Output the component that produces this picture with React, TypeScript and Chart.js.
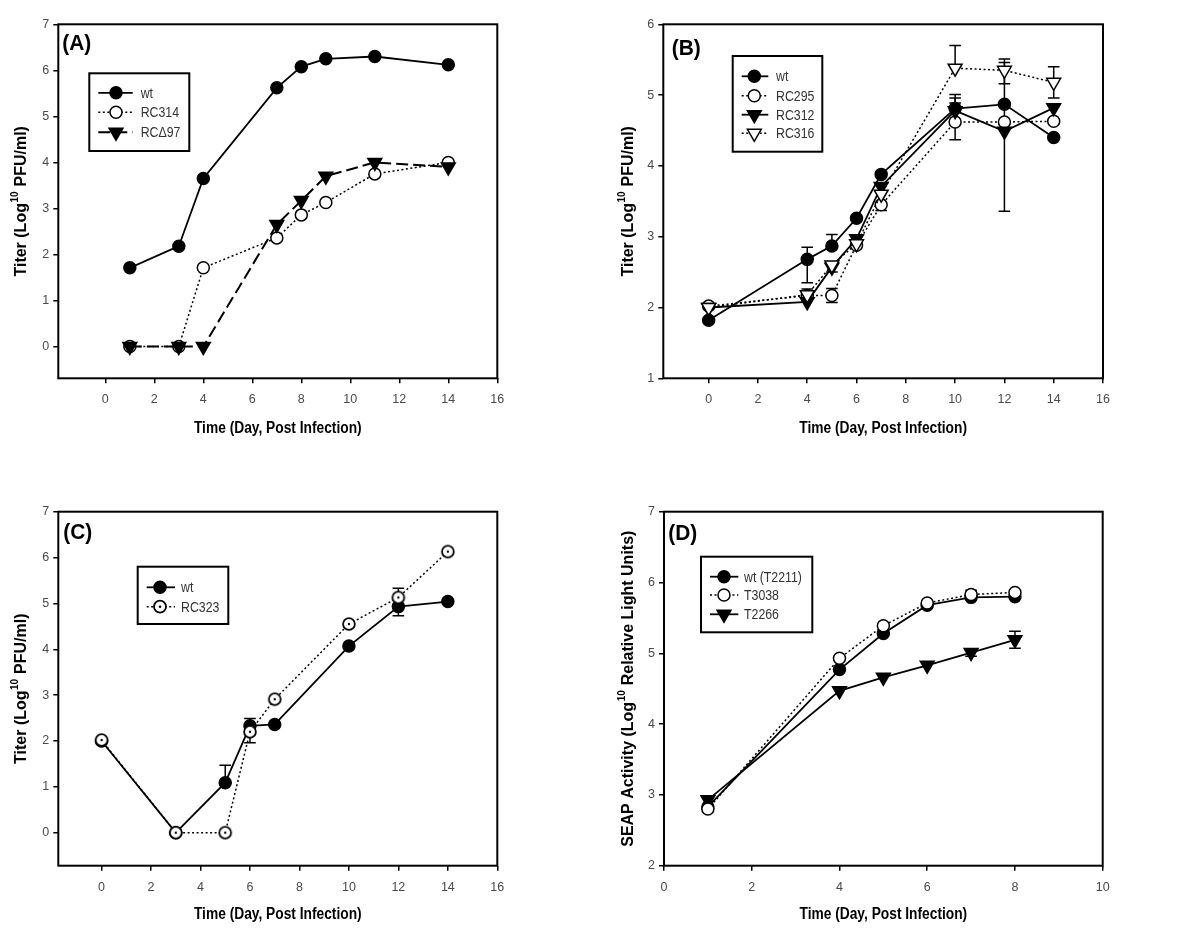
import React, { useEffect, useRef } from "react";
import { Chart, registerables } from "chart.js";

Chart.register(...registerables);

const FONT = '"Liberation Sans", Arial, Helvetica, sans-serif';

// ---------------- Panel A ----------------
const aDays = [1, 3, 4, 7, 8, 9, 11, 14];
const aWt = [1.71, 2.18, 3.65, 5.62, 6.08, 6.25, 6.3, 6.12];
const aRC314 = [0, 0, 1.71, 2.36, 2.86, 3.13, 3.75, 4.0];
const aRCd97 = [0, 0, 0, 2.65, 3.17, 3.7, 4.0, 3.9];
const aXTicks = [0, 2, 4, 6, 8, 10, 12, 14, 16];
const aYTicks = [0, 1, 2, 3, 4, 5, 6, 7];

// ---------------- Panel B ----------------
const bDays = [0, 4, 5, 6, 7, 10, 12, 14];
const bWt = [1.82, 2.68, 2.87, 3.26, 3.88, 4.81, 4.87, 4.4];
const bWtErrUp = [0, 0.17, 0.16, 0, 0, 0.2, 0, 0];
const bWtErrDown = [0, 0.33, 0, 0, 0, 0, 0, 0];
const bRC295 = [2.02, 2.17, 2.17, 2.88, 3.45, 4.62, 4.62, 4.63];
const bRC295ErrUp = [0, 0, 0.1, 0, 0, 0.27, 0, 0];
const bRC295ErrDown = [0, 0, 0.1, 0, 0.08, 0.25, 0, 0];
const bRC312 = [2.0, 2.08, 2.57, 2.97, 3.71, 4.78, 4.49, 4.82];
const bRC312ErrUp = [0, 0, 0, 0, 0, 0.18, 0.97, 0];
const bRC312ErrDown = [0, 0, 0, 0, 0, 0, 1.13, 0];
const bRC316 = [2.0, 2.18, 2.6, 2.9, 3.6, 5.38, 5.35, 5.18];
const bRC316ErrUp = [0, 0.08, 0, 0, 0, 0.32, 0.16, 0.22];
const bRC316ErrDown = [0, 0, 0.1, 0, 0, 0, 0.19, 0.22];
const bXTicks = [0, 2, 4, 6, 8, 10, 12, 14, 16];
const bYTicks = [1, 2, 3, 4, 5, 6];

// ---------------- Panel C ----------------
const cDays = [0, 3, 5, 6, 7, 10, 12, 14];
const cWt = [2.0, 0, 1.09, 2.33, 2.36, 4.07, 4.93, 5.04];
const cWtErrUp = [0, 0, 0.38, 0.16, 0, 0, 0, 0];
const cWtErrDown = [0, 0, 0, 0, 0, 0, 0.2, 0];
const cRC323 = [2.02, 0, 0, 2.2, 2.91, 4.55, 5.13, 6.13];
const cRC323ErrUp = [0, 0, 0, 0, 0, 0, 0.2, 0];
const cRC323ErrDown = [0, 0, 0, 0.24, 0, 0, 0, 0];
const cXTicks = [0, 2, 4, 6, 8, 10, 12, 14, 16];
const cYTicks = [0, 1, 2, 3, 4, 5, 6, 7];

// ---------------- Panel D ----------------
const dDays = [1, 4, 5, 6, 7, 8];
const dWt = [2.83, 4.77, 5.28, 5.68, 5.79, 5.8];
const dT3038 = [2.8, 4.93, 5.39, 5.71, 5.83, 5.86];
const dT3038Err = [0, 0, 0, 0, 0.06, 0];
const dT2266 = [2.93, 4.47, 4.66, 4.83, 5.01, 5.19];
const dT2266Err = [0, 0, 0, 0, 0.05, 0.12];
const dXTicks = [0, 2, 4, 6, 8, 10];
const dYTicks = [2, 3, 4, 5, 6, 7];

type Marker = "filledCircle" | "openCircle" | "filledTri" | "openTri" | "dotCircle";

interface SeriesSpec {
  label: string;
  ys: number[];
  errUp?: number[];
  errDown?: number[];
  marker: Marker;
  dash: number[];
  lineWidth: number;
  order: number;
}

interface PanelSpec {
  left: number;
  top: number;
  width: number;
  height: number;
  area: { l: number; t: number; r: number; b: number };
  xMin: number;
  xMax: number;
  yMin: number;
  yMax: number;
  xTicks: number[];
  yTicks: number[];
  days: number[];
  series: SeriesSpec[];
  tag: string;
  tagX: number;
  tagY: number;
  xTitle: string;
  xTitleY: number;
  yTitle: [string, string, string];
  yTitleX: number;
  legend: {
    x1: number;
    y1: number;
    x2: number;
    y2: number;
    rows: number[];
    lineX1: number;
    lineX2: number;
    markerX: number;
    textX: number;
  };
}

const CIRCLE_R = 6;
const TRI_R = 8;

let dotCircleCanvas: HTMLCanvasElement | null = null;
function getDotCircle(): HTMLCanvasElement {
  if (dotCircleCanvas) return dotCircleCanvas;
  const c = document.createElement("canvas");
  c.width = 16;
  c.height = 16;
  const g = c.getContext("2d")!;
  g.beginPath();
  g.arc(8, 8, 5.9, 0, Math.PI * 2);
  g.fillStyle = "#fff";
  g.fill();
  g.lineWidth = 1.8;
  g.strokeStyle = "#000";
  g.stroke();
  g.beginPath();
  g.arc(8, 8, 1.2, 0, Math.PI * 2);
  g.fillStyle = "#000";
  g.fill();
  dotCircleCanvas = c;
  return c;
}

function pointProps(marker: Marker): any {
  switch (marker) {
    case "filledCircle":
      return { pointStyle: "circle", pointRadius: CIRCLE_R, pointBackgroundColor: "#000", pointRotation: 0 };
    case "openCircle":
      return { pointStyle: "circle", pointRadius: CIRCLE_R, pointBackgroundColor: "#fff", pointRotation: 0 };
    case "filledTri":
      return { pointStyle: "triangle", pointRadius: TRI_R, pointBackgroundColor: "#000", pointRotation: 180 };
    case "openTri":
      return { pointStyle: "triangle", pointRadius: TRI_R, pointBackgroundColor: "#fff", pointRotation: 180 };
    case "dotCircle":
      return { pointStyle: getDotCircle(), pointRadius: CIRCLE_R, pointBackgroundColor: "#fff", pointRotation: 0 };
  }
}

function drawLegendMarker(ctx: CanvasRenderingContext2D, marker: Marker, x: number, y: number) {
  ctx.save();
  ctx.setLineDash([]);
  ctx.lineWidth = 1.5;
  ctx.strokeStyle = "#000";
  if (marker === "filledCircle" || marker === "openCircle" || marker === "dotCircle") {
    ctx.beginPath();
    ctx.arc(x, y, CIRCLE_R, 0, Math.PI * 2);
    ctx.fillStyle = marker === "filledCircle" ? "#000" : "#fff";
    ctx.fill();
    ctx.lineWidth = marker === "dotCircle" ? 1.8 : 1.5;
    ctx.stroke();
    if (marker === "dotCircle") {
      ctx.beginPath();
      ctx.arc(x, y, 1.2, 0, Math.PI * 2);
      ctx.fillStyle = "#000";
      ctx.fill();
    }
  } else {
    const r = TRI_R;
    const s = Math.sin(Math.PI / 3) * r;
    ctx.beginPath();
    ctx.moveTo(x, y + r);
    ctx.lineTo(x - s, y - r / 2);
    ctx.lineTo(x + s, y - r / 2);
    ctx.closePath();
    ctx.fillStyle = marker === "filledTri" ? "#000" : "#fff";
    ctx.fill();
    ctx.stroke();
  }
  ctx.restore();
}

function fillTextScaled(
  ctx: CanvasRenderingContext2D,
  text: string,
  x: number,
  y: number,
  sx: number,
  align: CanvasTextAlign
) {
  ctx.save();
  ctx.translate(x, y);
  ctx.scale(sx, 1);
  ctx.textAlign = align;
  ctx.fillText(text, 0, 0);
  ctx.restore();
}

function drawYTitle(ctx: CanvasRenderingContext2D, parts: [string, string, string], cx: number, cy: number) {
  ctx.save();
  ctx.translate(cx, cy);
  ctx.rotate(-Math.PI / 2);
  const main = `bold 16px ${FONT}`;
  const sup = `bold 10px ${FONT}`;
  ctx.font = main;
  const w1 = ctx.measureText(parts[0]).width;
  const w3 = ctx.measureText(parts[2]).width;
  ctx.font = sup;
  const w2 = ctx.measureText(parts[1]).width;
  let x = -(w1 + w2 + w3 + 1) / 2;
  ctx.textBaseline = "middle";
  ctx.textAlign = "left";
  ctx.fillStyle = "#000";
  ctx.font = main;
  ctx.fillText(parts[0], x, 0);
  x += w1;
  ctx.font = sup;
  ctx.fillText(parts[1], x + 0.5, -6);
  x += w2 + 1;
  ctx.font = main;
  ctx.fillText(parts[2], x, 0);
  ctx.restore();
}

function makePlugin(spec: PanelSpec) {
  return {
    id: "panelDeco",
    beforeDatasetsDraw(chart: any) {
      const ctx: CanvasRenderingContext2D = chart.ctx;
      const xs = chart.scales.x;
      const ys = chart.scales.y;
      ctx.save();
      ctx.strokeStyle = "#000";
      ctx.lineWidth = 1.5;
      ctx.setLineDash([]);
      const cap = 5.8;
      spec.series.forEach((s) => {
        spec.days.forEach((d, i) => {
          const v = s.ys[i];
          const up = s.errUp ? s.errUp[i] : 0;
          const dn = s.errDown ? s.errDown[i] : 0;
          const px = xs.getPixelForValue(d);
          const py = ys.getPixelForValue(v);
          if (up > 0) {
            const t = ys.getPixelForValue(v + up);
            ctx.beginPath();
            ctx.moveTo(px, py);
            ctx.lineTo(px, t);
            ctx.moveTo(px - cap, t);
            ctx.lineTo(px + cap, t);
            ctx.stroke();
          }
          if (dn > 0) {
            const b = ys.getPixelForValue(v - dn);
            ctx.beginPath();
            ctx.moveTo(px, py);
            ctx.lineTo(px, b);
            ctx.moveTo(px - cap, b);
            ctx.lineTo(px + cap, b);
            ctx.stroke();
          }
        });
      });
      ctx.restore();
    },
    afterDraw(chart: any) {
      const ctx: CanvasRenderingContext2D = chart.ctx;
      const a = chart.chartArea;
      ctx.save();
      ctx.setLineDash([]);
      ctx.strokeStyle = "#000";
      ctx.lineWidth = 2;
      ctx.strokeRect(a.left, a.top, a.right - a.left, a.bottom - a.top);
      ctx.fillStyle = "#000";
      ctx.font = `bold 22px ${FONT}`;
      ctx.textBaseline = "middle";
      fillTextScaled(ctx, spec.tag, spec.tagX, spec.tagY, 0.95, "left");
      ctx.font = `bold 16px ${FONT}`;
      fillTextScaled(ctx, spec.xTitle, (a.left + a.right) / 2, spec.xTitleY, 0.86, "center");
      ctx.restore();
      drawYTitle(ctx, spec.yTitle, spec.yTitleX, (a.top + a.bottom) / 2);
      const L = spec.legend;
      ctx.save();
      ctx.fillStyle = "#fff";
      ctx.fillRect(L.x1, L.y1, L.x2 - L.x1, L.y2 - L.y1);
      ctx.strokeStyle = "#000";
      ctx.lineWidth = 2;
      ctx.strokeRect(L.x1, L.y1, L.x2 - L.x1, L.y2 - L.y1);
      spec.series.forEach((s, i) => {
        const y = L.rows[i];
        ctx.save();
        ctx.strokeStyle = "#000";
        ctx.lineWidth = s.lineWidth;
        ctx.setLineDash(s.dash);
        ctx.beginPath();
        ctx.moveTo(L.lineX1, y);
        ctx.lineTo(L.lineX2, y);
        ctx.stroke();
        ctx.restore();
        drawLegendMarker(ctx, s.marker, L.markerX, y);
        ctx.fillStyle = "#333";
        ctx.font = `14px ${FONT}`;
        ctx.textBaseline = "middle";
        fillTextScaled(ctx, s.label, L.textX, y + 1, 0.88, "left");
      });
      ctx.restore();
    },
  };
}

function buildConfig(spec: PanelSpec): any {
  const datasets = spec.series.map((s) => ({
    label: s.label,
    data: spec.days.map((d, i) => ({ x: d, y: s.ys[i] })),
    showLine: true,
    borderColor: "#000",
    borderWidth: s.lineWidth,
    borderDash: s.dash,
    tension: 0,
    fill: false,
    pointBorderColor: "#000",
    pointBorderWidth: 1.5,
    order: s.order,
    clip: false,
    ...pointProps(s.marker),
  }));
  const tickFont = { family: FONT, size: 12.5 };
  return {
    type: "scatter",
    data: { datasets },
    options: {
      animation: false,
      responsive: false,
      maintainAspectRatio: false,
      events: [],
      layout: {
        padding: { left: 0, top: spec.area.t, right: spec.width - spec.area.r, bottom: 0 },
      },
      plugins: { legend: { display: false }, tooltip: { enabled: false }, title: { display: false } },
      scales: {
        x: {
          type: "linear",
          position: "bottom",
          min: spec.xMin,
          max: spec.xMax,
          afterBuildTicks: (s: any) => {
            s.ticks = spec.xTicks.map((v) => ({ value: v }));
          },
          afterFit: (s: any) => {
            s.height = spec.height - spec.area.b;
          },
          ticks: { color: "#4a4a4a", font: tickFont, padding: 9, maxRotation: 0, autoSkip: false },
          grid: { drawOnChartArea: false, drawTicks: true, tickLength: 5, color: "#000", lineWidth: 1.5 },
          border: { display: false },
          title: { display: false },
        },
        y: {
          type: "linear",
          position: "left",
          min: spec.yMin,
          max: spec.yMax,
          afterBuildTicks: (s: any) => {
            s.ticks = spec.yTicks.map((v) => ({ value: v }));
          },
          afterFit: (s: any) => {
            s.width = spec.area.l;
          },
          ticks: { color: "#4a4a4a", font: tickFont, padding: 4, autoSkip: false },
          grid: { drawOnChartArea: false, drawTicks: true, tickLength: 5, color: "#000", lineWidth: 1.5 },
          border: { display: false },
          title: { display: false },
        },
      },
    },
    plugins: [makePlugin(spec)],
  };
}

const DOTTED = [2, 2.5];
const DASHED = [12, 5];

const panels: PanelSpec[] = [
  {
    left: 0,
    top: 0,
    width: 600,
    height: 467,
    area: { l: 58.3, t: 24.3, r: 497.3, b: 378.3 },
    xMin: -1.92,
    xMax: 16,
    yMin: -0.69,
    yMax: 7,
    xTicks: aXTicks,
    yTicks: aYTicks,
    days: aDays,
    series: [
      { label: "wt", ys: aWt, marker: "filledCircle", dash: [], lineWidth: 1.8, order: 0 },
      { label: "RC314", ys: aRC314, marker: "openCircle", dash: DOTTED, lineWidth: 1.5, order: 2 },
      { label: "RCΔ97", ys: aRCd97, marker: "filledTri", dash: DASHED, lineWidth: 2, order: 1 },
    ],
    tag: "(A)",
    tagX: 62.3,
    tagY: 43.5,
    xTitle: "Time (Day, Post Infection)",
    xTitleY: 429,
    yTitle: ["Titer (Log", "10", " PFU/ml)"],
    yTitleX: 21.7,
    legend: { x1: 89.3, y1: 73.3, x2: 189.3, y2: 151, rows: [92.8, 112.3, 132.3], lineX1: 98.3, lineX2: 132.7, markerX: 116, textX: 140.7 },
  },
  {
    left: 600,
    top: 0,
    width: 600,
    height: 467,
    area: { l: 63.3, t: 24.3, r: 503, b: 378.3 },
    xMin: -1.84,
    xMax: 16,
    yMin: 1,
    yMax: 6,
    xTicks: bXTicks,
    yTicks: bYTicks,
    days: bDays,
    series: [
      { label: "wt", ys: bWt, errUp: bWtErrUp, errDown: bWtErrDown, marker: "filledCircle", dash: [], lineWidth: 1.8, order: 0 },
      { label: "RC295", ys: bRC295, errUp: bRC295ErrUp, errDown: bRC295ErrDown, marker: "openCircle", dash: DOTTED, lineWidth: 1.5, order: 3 },
      { label: "RC312", ys: bRC312, errUp: bRC312ErrUp, errDown: bRC312ErrDown, marker: "filledTri", dash: [], lineWidth: 1.8, order: 2 },
      { label: "RC316", ys: bRC316, errUp: bRC316ErrUp, errDown: bRC316ErrDown, marker: "openTri", dash: DOTTED, lineWidth: 1.5, order: 1 },
    ],
    tag: "(B)",
    tagX: 71.7,
    tagY: 48.5,
    xTitle: "Time (Day, Post Infection)",
    xTitleY: 429,
    yTitle: ["Titer (Log", "10", " PFU/ml)"],
    yTitleX: 28.3,
    legend: { x1: 132.7, y1: 56, x2: 222.3, y2: 151.7, rows: [76.3, 95.8, 114.7, 133.3], lineX1: 141.7, lineX2: 168.3, markerX: 154.3, textX: 176 },
  },
  {
    left: 0,
    top: 467,
    width: 600,
    height: 467,
    area: { l: 58.3, t: 44.7, r: 497.3, b: 398.7 },
    xMin: -1.75,
    xMax: 16,
    yMin: -0.72,
    yMax: 7,
    xTicks: cXTicks,
    yTicks: cYTicks,
    days: cDays,
    series: [
      { label: "wt", ys: cWt, errUp: cWtErrUp, errDown: cWtErrDown, marker: "filledCircle", dash: [], lineWidth: 1.8, order: 1 },
      { label: "RC323", ys: cRC323, errUp: cRC323ErrUp, errDown: cRC323ErrDown, marker: "dotCircle", dash: DOTTED, lineWidth: 1.5, order: 0 },
    ],
    tag: "(C)",
    tagX: 63.3,
    tagY: 66.3,
    xTitle: "Time (Day, Post Infection)",
    xTitleY: 448,
    yTitle: ["Titer (Log", "10", " PFU/ml)"],
    yTitleX: 21.7,
    legend: { x1: 137.7, y1: 99.7, x2: 228.3, y2: 157, rows: [120.3, 139.7], lineX1: 146.7, lineX2: 175, markerX: 160, textX: 181 },
  },
  {
    left: 600,
    top: 467,
    width: 600,
    height: 467,
    area: { l: 64, t: 44.7, r: 502.7, b: 398.7 },
    xMin: 0,
    xMax: 10,
    yMin: 2,
    yMax: 7,
    xTicks: dXTicks,
    yTicks: dYTicks,
    days: dDays,
    series: [
      { label: "wt (T2211)", ys: dWt, marker: "filledCircle", dash: [], lineWidth: 1.8, order: 1 },
      { label: "T3038", ys: dT3038, errUp: dT3038Err, errDown: dT3038Err, marker: "openCircle", dash: DOTTED, lineWidth: 1.5, order: 0 },
      { label: "T2266", ys: dT2266, errUp: dT2266Err, errDown: dT2266Err, marker: "filledTri", dash: [], lineWidth: 1.8, order: 2 },
    ],
    tag: "(D)",
    tagX: 68.3,
    tagY: 67,
    xTitle: "Time (Day, Post Infection)",
    xTitleY: 448,
    yTitle: ["SEAP Activity (Log", "10", " Relative Light Units)"],
    yTitleX: 28.3,
    legend: { x1: 101, y1: 89.7, x2: 212.3, y2: 165.3, rows: [109.7, 128, 147.3], lineX1: 110, lineX2: 138.3, markerX: 124, textX: 144 },
  },
];

function Panel({ spec }: { spec: PanelSpec }) {
  const ref = useRef<HTMLCanvasElement | null>(null);
  useEffect(() => {
    if (!ref.current) return;
    const chart = new Chart(ref.current, buildConfig(spec));
    return () => chart.destroy();
  }, [spec]);
  return (
    <canvas
      ref={ref}
      width={spec.width}
      height={spec.height}
      style={{
        position: "absolute",
        left: spec.left,
        top: spec.top,
        width: spec.width,
        height: spec.height,
        display: "block",
      }}
    />
  );
}

export default function App() {
  return (
    <div
      style={{
        position: "absolute",
        left: 0,
        top: 0,
        width: 1200,
        height: 934,
        background: "#fff",
        overflow: "hidden",
      }}
    >
      {panels.map((p) => (
        <Panel key={p.tag} spec={p} />
      ))}
    </div>
  );
}
